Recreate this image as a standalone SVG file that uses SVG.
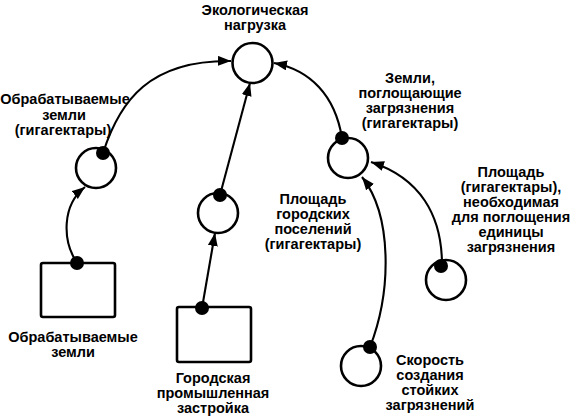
<svg xmlns="http://www.w3.org/2000/svg" width="570" height="418" viewBox="0 0 570 418">
<defs>
<marker id="arr" markerUnits="userSpaceOnUse" markerWidth="14" markerHeight="11" refX="13" refY="5" orient="auto">
<path d="M0,0 L13,5 L0,10 z" fill="#000"/>
</marker>
<style>
.n{fill:#fff;stroke:#000;stroke-width:2.6}
.d{fill:#000}
.c{fill:none;stroke:#000;stroke-width:2.1}
text{font-family:"Liberation Sans",Arial,sans-serif;font-weight:bold;font-size:14.5px;fill:#000;text-anchor:middle}
</style>
</defs>
<rect width="570" height="418" fill="#fff"/>
<g id="connectors">
<path class="c" d="M103,153 C120,100 150,60 231,61" marker-end="url(#arr)"/>
<path class="c" d="M77,263 C62,240 62,205 85,187" marker-end="url(#arr)"/>
<path class="c" d="M202,308 L215,233" marker-end="url(#arr)"/>
<path class="c" d="M220,195 L250,83" marker-end="url(#arr)"/>
<path class="c" d="M342,138 C335,95 310,70 274,63" marker-end="url(#arr)"/>
<path class="c" d="M442,265 C442,215 420,178 371,162" marker-end="url(#arr)"/>
<path class="c" d="M370,347 C392,290 392,215 362,177" marker-end="url(#arr)"/>
</g>
<g id="load">
<circle class="n" cx="252.5" cy="63" r="20"/>
<text x="255" y="15">Экологическая</text>
<text x="255" y="30">нагрузка</text>
</g>
<g id="cultivated-stock">
<circle class="n" cx="96" cy="168" r="20"/>
<circle class="d" cx="103" cy="153" r="7"/>
<text x="65" y="104">Обрабатываемые</text>
<text x="64" y="120">земли</text>
<text x="63" y="135">(гигагектары)</text>
</g>
<g id="cultivated-source">
<rect class="n" x="41" y="263" width="74" height="54" rx="2"/>
<circle class="d" cx="77" cy="263" r="7"/>
<text x="73" y="342">Обрабатываемые</text>
<text x="73" y="357">земли</text>
</g>
<g id="urban-stock">
<circle class="n" cx="218" cy="213" r="20"/>
<circle class="d" cx="220" cy="195" r="7"/>
<text x="313" y="204">Площадь</text>
<text x="313" y="219">городских</text>
<text x="313" y="234">поселений</text>
<text x="313" y="249">(гигагектары)</text>
</g>
<g id="urban-source">
<rect class="n" x="177" y="307" width="74" height="55" rx="2"/>
<circle class="d" cx="202" cy="308" r="7"/>
<text x="213" y="383">Городская</text>
<text x="213" y="398">промышленная</text>
<text x="213" y="413">застройка</text>
</g>
<g id="absorbing-stock">
<circle class="n" cx="348" cy="158" r="20"/>
<circle class="d" cx="342" cy="138" r="7"/>
<text x="410" y="83">Земли,</text>
<text x="410" y="98">поглощающие</text>
<text x="410" y="113">загрязнения</text>
<text x="410" y="128">(гигагектары)</text>
</g>
<g id="area-per-unit">
<circle class="n" cx="446" cy="280" r="20"/>
<circle class="d" cx="441" cy="266" r="7"/>
<text x="511" y="177">Площадь</text>
<text x="511" y="192">(гигагектары),</text>
<text x="511" y="207">необходимая</text>
<text x="511" y="222">для поглощения</text>
<text x="511" y="237">единицы</text>
<text x="511" y="252">загрязнения</text>
</g>
<g id="pollution-rate">
<circle class="n" cx="361" cy="366" r="20"/>
<circle class="d" cx="370" cy="347" r="7"/>
<text x="430" y="365">Скорость</text>
<text x="430" y="380">создания</text>
<text x="430" y="395">стойких</text>
<text x="430" y="410">загрязнений</text>
</g>
</svg>
